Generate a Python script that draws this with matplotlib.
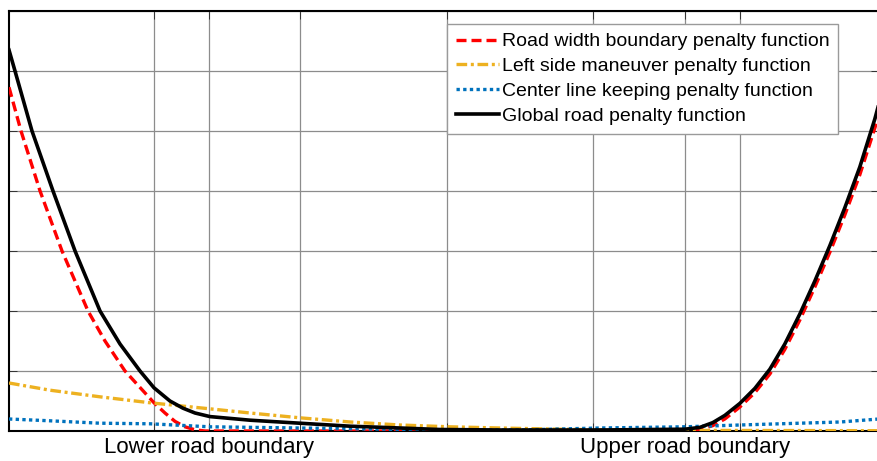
import matplotlib
matplotlib.use("Agg")
import matplotlib.pyplot as plt

plt.rcParams['font.family'] = ['Liberation Sans', 'DejaVu Sans']

# Lateral position across the road (m) and penalty values for each term
road_x = [-5.98, -5.816, -5.556, -5.256, -4.901, -4.669, -4.396, -4.0, -3.85,
          -3.713, -3.577, -3.44, -3.304, -1.0, 1.0, 3.386, 3.631, 3.795, 4.0,
          4.205, 4.41, 4.614, 4.819, 5.024, 5.229, 5.433, 5.638, 5.843, 5.898]
road_y = [5.73, 5.0, 4.0, 3.0, 2.0, 1.5, 1.0, 0.47, 0.30,
          0.16, 0.07, 0.02, 0.0, 0.0, 0.0, 0.0, 0.09, 0.20, 0.40,
          0.64, 0.95, 1.36, 1.85, 2.40, 2.98, 3.60, 4.27, 5.05, 5.25]

left_x = [-5.98, -5.42, -4.74, -4.05, -3.24, -2.69, -2.01, -1.32, -0.64, 0.04,
          0.72, 1.54, 2.36, 3.45, 5.90]
left_y = [0.80, 0.68, 0.57, 0.47, 0.37, 0.30, 0.22, 0.15, 0.10, 0.07,
          0.05, 0.03, 0.017, 0.01, 0.005]

center_x = [-5.98, -5.42, -4.74, -4.05, -3.24, -2.01, -0.10, 1.0, 2.09, 3.25,
            4.0, 4.82, 5.37, 5.90]
center_y = [0.20, 0.17, 0.13, 0.12, 0.07, 0.05, 0.017, 0.017, 0.05, 0.07,
            0.10, 0.13, 0.15, 0.20]

global_x = [-5.98, -5.898, -5.666, -5.379, -5.078, -4.737, -4.464, -4.191, -4.0,
            -3.782, -3.604, -3.44, -3.235, -2.689, -2.01, -1.32, -0.64, -0.10,
            0.72, 2.09, 3.249, 3.454, 3.631, 3.795, 4.0, 4.205, 4.41, 4.614,
            4.819, 5.024, 5.229, 5.433, 5.638, 5.843, 5.898]
global_y = [6.35, 6.0, 5.0, 4.0, 3.0, 2.0, 1.45, 1.0, 0.72,
            0.50, 0.38, 0.30, 0.24, 0.18, 0.13, 0.08, 0.05, 0.025,
            0.017, 0.017, 0.03, 0.06, 0.14, 0.26, 0.46, 0.71, 1.03, 1.45,
            1.95, 2.50, 3.09, 3.72, 4.40, 5.20, 5.45]

tick_pos = [-4, -3.25, -2, 0, 2, 3.25, 4]
tick_labels = ['', 'Lower road boundary', '', '', '', 'Upper road boundary', '']

labels = ['Road width boundary penalty function',
          'Left side maneuver penalty function',
          'Center line keeping penalty function',
          'Global road penalty function']

fig = plt.figure(figsize=(8.78, 4.61), dpi=100)
ax = fig.add_axes([9 / 878, 30 / 461, 870 / 878, 420 / 461])

ax.plot(road_x, road_y, color='#FF0000', lw=2.4, linestyle=(0, (3.0, 1.5)),
        label=labels[0], zorder=3)
ax.plot(left_x, left_y, color='#EDB120', lw=2.4, linestyle=(0, (3.2, 1.1, 0.9, 1.1)),
        label=labels[1], zorder=3)
ax.plot(center_x, center_y, color='#0072BD', lw=2.4, linestyle=(0, (1.0, 1.0)),
        label=labels[2], zorder=3)
ax.plot(global_x, global_y, color='black', lw=2.6, label=labels[3], zorder=4)

ax.set_xlim(-5.98, 5.9)
ax.set_ylim(0, 7)
ax.set_xticks(tick_pos)
ax.set_xticklabels(tick_labels, fontsize=16)
ax.set_yticks(range(0, 8))
ax.set_yticklabels([])
ax.tick_params(direction='in', top=True, right=True, length=6, width=0.7,
               color='#333333', pad=4)

ax.grid(True, color='#8c8c8c', lw=0.9)
ax.set_axisbelow(True)
for side in ('left', 'top', 'bottom', 'right'):
    ax.spines[side].set_linewidth(1.5)
    ax.spines[side].set_color('black')

leg = ax.legend(loc='upper left', bbox_to_anchor=(0.504, 0.969), borderaxespad=0,
                fontsize=14, handlelength=2.2, handletextpad=0.15,
                labelspacing=0.37, borderpad=0.45, fancybox=False, framealpha=1,
                edgecolor='#9a9a9a')
leg.get_frame().set_linewidth(1.0)

fig.savefig('out.png', dpi=100)
